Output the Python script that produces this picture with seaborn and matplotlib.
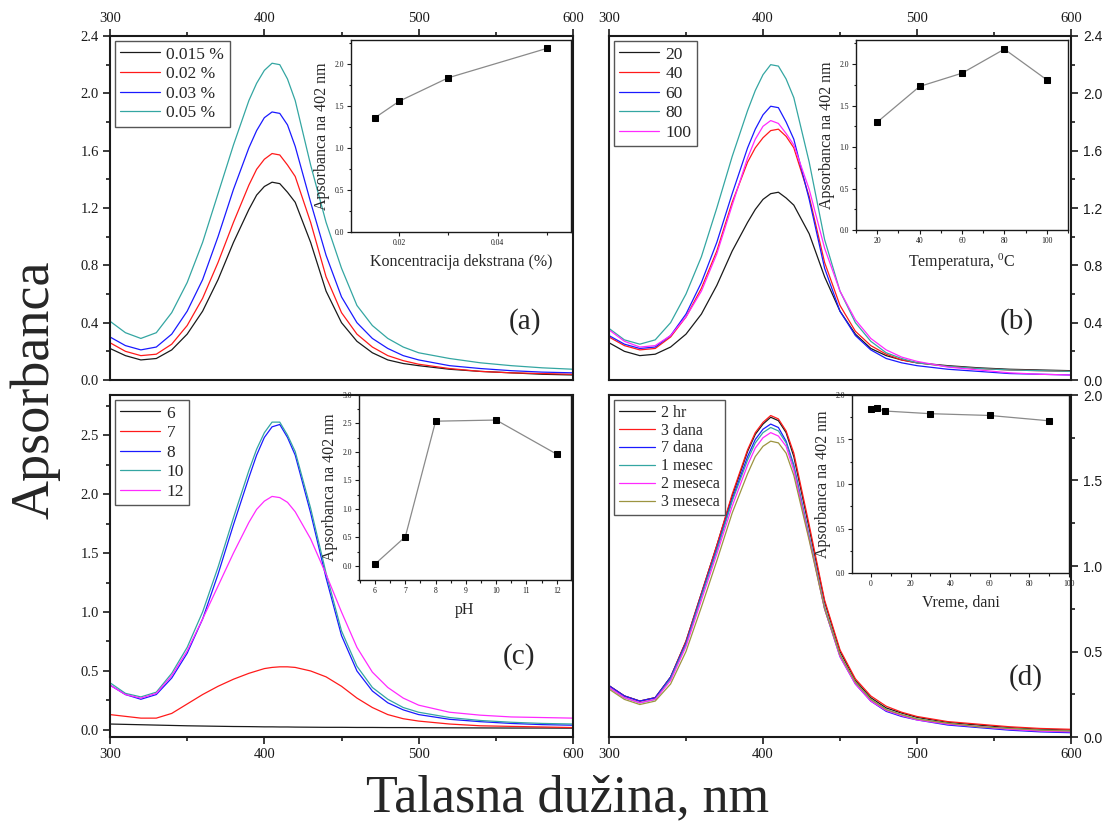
import matplotlib
matplotlib.use("Agg")
import matplotlib.pyplot as plt
import numpy as np
import pandas as pd
import seaborn as sns
from matplotlib.ticker import MultipleLocator

# ---------------------------------------------------------------- data
WL = [300, 310, 320, 330, 340, 350, 360, 370, 380, 390, 395, 400, 405, 410,
      415, 420, 430, 440, 450, 460, 470, 480, 490, 500, 520, 540, 560, 580, 600]

# (a) dextran concentration
DEX_LABELS = ["0.015 %", "0.02 %", "0.03 %", "0.05 %"]
dex_0015 = [0.22, 0.17, 0.14, 0.15, 0.21, 0.32, 0.48, 0.70, 0.96, 1.19, 1.29, 1.35, 1.38, 1.37,
            1.31, 1.24, 0.96, 0.62, 0.40, 0.27, 0.19, 0.14, 0.115, 0.10, 0.075, 0.06, 0.05, 0.04, 0.035]
dex_002 = [0.26, 0.20, 0.17, 0.18, 0.25, 0.38, 0.57, 0.82, 1.10, 1.36, 1.47, 1.54, 1.58, 1.57,
           1.50, 1.42, 1.10, 0.72, 0.47, 0.32, 0.23, 0.17, 0.135, 0.11, 0.08, 0.06, 0.05, 0.045, 0.04]
dex_003 = [0.30, 0.24, 0.21, 0.23, 0.32, 0.48, 0.70, 1.00, 1.33, 1.62, 1.74, 1.83, 1.87, 1.86,
           1.78, 1.63, 1.24, 0.87, 0.58, 0.40, 0.29, 0.22, 0.17, 0.14, 0.10, 0.08, 0.065, 0.055, 0.05]
dex_005 = [0.41, 0.33, 0.29, 0.33, 0.47, 0.68, 0.96, 1.30, 1.64, 1.95, 2.07, 2.16, 2.21, 2.20,
           2.10, 1.95, 1.50, 1.10, 0.78, 0.52, 0.38, 0.29, 0.23, 0.19, 0.15, 0.12, 0.10, 0.085, 0.075]
DEX_CONC = [0.015, 0.02, 0.03, 0.05]
DEX_A402 = [1.36, 1.56, 1.84, 2.19]

# (b) temperature
TEMP_LABELS = ["20", "40", "60", "80", "100"]
t20 = [0.26, 0.20, 0.17, 0.18, 0.23, 0.32, 0.46, 0.66, 0.90, 1.10, 1.19, 1.26, 1.30, 1.31,
       1.27, 1.22, 1.02, 0.72, 0.48, 0.32, 0.22, 0.17, 0.14, 0.12, 0.10, 0.085, 0.075, 0.07, 0.065]
t40 = [0.30, 0.24, 0.21, 0.22, 0.30, 0.44, 0.64, 0.90, 1.24, 1.52, 1.62, 1.69, 1.74, 1.75,
       1.70, 1.62, 1.28, 0.82, 0.52, 0.34, 0.24, 0.18, 0.14, 0.12, 0.095, 0.08, 0.07, 0.065, 0.06]
t60 = [0.31, 0.25, 0.22, 0.23, 0.31, 0.46, 0.68, 0.96, 1.30, 1.62, 1.75, 1.85, 1.91, 1.90,
       1.80, 1.68, 1.26, 0.78, 0.48, 0.31, 0.21, 0.15, 0.12, 0.10, 0.075, 0.06, 0.045, 0.04, 0.035]
t80 = [0.36, 0.28, 0.25, 0.28, 0.40, 0.60, 0.86, 1.20, 1.56, 1.88, 2.02, 2.13, 2.20, 2.19,
       2.10, 1.97, 1.52, 0.98, 0.62, 0.40, 0.27, 0.19, 0.15, 0.12, 0.095, 0.08, 0.07, 0.065, 0.06]
t100 = [0.35, 0.27, 0.23, 0.24, 0.31, 0.44, 0.62, 0.88, 1.22, 1.55, 1.68, 1.77, 1.81, 1.79,
        1.72, 1.64, 1.33, 0.92, 0.62, 0.42, 0.29, 0.21, 0.16, 0.13, 0.09, 0.07, 0.05, 0.04, 0.035]
TEMP_C = [20, 40, 60, 80, 100]
TEMP_A402 = [1.30, 1.73, 1.89, 2.18, 1.81]

# (c) pH
PH_LABELS = ["6", "7", "8", "10", "12"]
ph6 = [0.05, 0.047, 0.044, 0.041, 0.038, 0.035, 0.033, 0.031, 0.029, 0.028, 0.027, 0.026, 0.026, 0.025,
       0.025, 0.024, 0.023, 0.022, 0.022, 0.021, 0.021, 0.02, 0.02, 0.019, 0.018, 0.017, 0.016, 0.016, 0.015]
ph7 = [0.13, 0.115, 0.10, 0.10, 0.14, 0.22, 0.30, 0.37, 0.43, 0.48, 0.50, 0.52, 0.53, 0.535,
       0.535, 0.53, 0.50, 0.45, 0.37, 0.27, 0.19, 0.13, 0.095, 0.075, 0.05, 0.035, 0.03, 0.025, 0.02]
ph8 = [0.38, 0.30, 0.26, 0.30, 0.44, 0.65, 0.94, 1.32, 1.74, 2.14, 2.33, 2.48, 2.57, 2.59,
       2.48, 2.33, 1.84, 1.29, 0.80, 0.50, 0.33, 0.23, 0.17, 0.13, 0.09, 0.07, 0.055, 0.045, 0.04]
ph10 = [0.40, 0.31, 0.28, 0.32, 0.48, 0.70, 1.00, 1.38, 1.80, 2.20, 2.38, 2.52, 2.61, 2.61,
        2.50, 2.36, 1.88, 1.33, 0.84, 0.54, 0.36, 0.26, 0.19, 0.15, 0.105, 0.08, 0.065, 0.055, 0.05]
ph12 = [0.38, 0.30, 0.27, 0.31, 0.46, 0.67, 0.94, 1.22, 1.50, 1.76, 1.87, 1.94, 1.98, 1.97,
        1.93, 1.85, 1.62, 1.32, 1.00, 0.70, 0.49, 0.36, 0.27, 0.21, 0.15, 0.125, 0.11, 0.105, 0.10]
PH_VALUES = [6, 7, 8, 10, 12]
PH_A402 = [0.03, 0.51, 2.54, 2.56, 1.96]

# (d) storage time
TIME_LABELS = ["2 hr", "3 dana", "7 dana", "1 mesec", "2 meseca", "3 meseca"]
d_2hr = [0.30, 0.24, 0.21, 0.23, 0.35, 0.56, 0.84, 1.12, 1.41, 1.67, 1.77, 1.83, 1.87, 1.85,
         1.78, 1.64, 1.22, 0.79, 0.50, 0.33, 0.23, 0.17, 0.14, 0.115, 0.085, 0.07, 0.055, 0.045, 0.04]
d_3d = [0.30, 0.24, 0.21, 0.23, 0.35, 0.56, 0.84, 1.12, 1.42, 1.68, 1.78, 1.84, 1.88, 1.86,
        1.79, 1.66, 1.24, 0.80, 0.51, 0.34, 0.24, 0.18, 0.145, 0.12, 0.09, 0.075, 0.06, 0.05, 0.045]
d_7d = [0.30, 0.24, 0.21, 0.23, 0.35, 0.55, 0.83, 1.10, 1.39, 1.64, 1.74, 1.80, 1.83, 1.81,
        1.73, 1.59, 1.17, 0.75, 0.47, 0.31, 0.21, 0.15, 0.12, 0.10, 0.07, 0.055, 0.04, 0.03, 0.025]
d_1m = [0.29, 0.23, 0.20, 0.22, 0.34, 0.54, 0.82, 1.09, 1.38, 1.62, 1.72, 1.78, 1.81, 1.79,
        1.72, 1.58, 1.17, 0.76, 0.48, 0.32, 0.22, 0.16, 0.13, 0.105, 0.08, 0.06, 0.05, 0.04, 0.035]
d_2m = [0.29, 0.23, 0.20, 0.22, 0.33, 0.53, 0.80, 1.07, 1.35, 1.59, 1.69, 1.75, 1.78, 1.76,
        1.70, 1.56, 1.16, 0.75, 0.47, 0.31, 0.21, 0.155, 0.125, 0.10, 0.075, 0.06, 0.045, 0.035, 0.03]
d_3m = [0.28, 0.22, 0.19, 0.21, 0.31, 0.50, 0.76, 1.03, 1.31, 1.54, 1.64, 1.70, 1.73, 1.72,
        1.66, 1.53, 1.15, 0.75, 0.48, 0.32, 0.22, 0.16, 0.13, 0.105, 0.08, 0.06, 0.05, 0.04, 0.035]
TIME_DAYS = [0, 3, 7, 30, 60, 90]
TIME_A402 = [1.84, 1.85, 1.82, 1.79, 1.77, 1.71]

# ---------------------------------------------------------------- style
BLACK, RED, BLUE, TEAL, MAGENTA, OLIVE = "#1a1a1a", "#ff1a1a", "#1a1aff", "#34a6a2", "#ff2aff", "#9c9440"

sns.set_theme(style="ticks")
plt.rcParams.update({
    "font.family": ["Liberation Serif", "DejaVu Serif"],
    "mathtext.fontset": "custom",
    "mathtext.rm": "Liberation Serif",
    "mathtext.it": "Liberation Serif:italic",
    "axes.edgecolor": "#1a1a1a",
    "axes.linewidth": 1.5,
    "axes.facecolor": "white",
    "figure.facecolor": "white",
    "xtick.color": "#1a1a1a",
    "ytick.color": "#1a1a1a",
})

W, H = 1104, 821
fig = plt.figure(figsize=(W / 100, H / 100), dpi=100)


def px_axes(x0, y0, x1, y1):
    return fig.add_axes([x0 / W, 1 - y1 / H, (x1 - x0) / W, (y1 - y0) / H])


def spectra(ax, series, labels, colors, ylim, ymaj, side_x, side_y, leg_size, leg_space):
    frame = pd.DataFrame({
        "wl": WL * len(series),
        "a": [v for s in series for v in s],
        "uzorak": [lab for lab in labels for _ in WL],
    })
    sns.lineplot(data=frame, x="wl", y="a", hue="uzorak", hue_order=labels,
                 palette=colors, estimator=None, lw=0.9, legend=False, ax=ax)
    ax.set_xlim(300, 600)
    ax.set_ylim(*ylim)
    ax.set_xlabel("")
    ax.set_ylabel("")
    ax.xaxis.set_major_locator(MultipleLocator(100))
    ax.xaxis.set_minor_locator(MultipleLocator(50))
    ax.yaxis.set_major_locator(MultipleLocator(ymaj))
    ax.yaxis.set_minor_locator(MultipleLocator(ymaj / 2))
    top = side_x == "top"
    right = side_y == "right"
    ax.tick_params(which="both", direction="out", width=1.2,
                   top=top, labeltop=top, bottom=not top, labelbottom=not top,
                   right=right, labelright=right, left=not right, labelleft=not right)
    ax.tick_params(which="major", length=5)
    ax.tick_params(which="minor", length=3)
    ax.tick_params(axis="x", labelsize=10.5, pad=3)
    if right:
        ax.tick_params(axis="y", labelsize=10, labelfontfamily="Liberation Sans", pad=4)
    else:
        ax.tick_params(axis="y", labelsize=10.5, pad=3)
    leg = ax.legend(ax.lines[:len(labels)], labels, loc="upper left", fontsize=leg_size,
                    frameon=True, fancybox=False, edgecolor="#555555", framealpha=1,
                    handlelength=2.3, handletextpad=0.35, labelspacing=leg_space,
                    borderpad=0.3, borderaxespad=0.3)
    leg.get_frame().set_linewidth(1.0)


def inset(ax, xs, ys, xlim, ylim, xmaj, xmin, xlabel):
    sns.lineplot(x=xs, y=ys, color="#8a8a8a", lw=0.9, marker="s", markersize=4.5,
                 markerfacecolor="black", markeredgecolor="black", estimator=None, ax=ax)
    ax.set_facecolor("none")
    ax.set_xlim(*xlim)
    ax.set_ylim(*ylim)
    ax.xaxis.set_major_locator(MultipleLocator(xmaj))
    ax.xaxis.set_minor_locator(MultipleLocator(xmin))
    ax.yaxis.set_major_locator(MultipleLocator(0.5))
    ax.yaxis.set_minor_locator(MultipleLocator(0.25))
    for sp in ax.spines.values():
        sp.set_linewidth(1.0)
    ax.tick_params(which="both", direction="out", width=0.8, labelsize=5.5, pad=2)
    ax.tick_params(which="major", length=3)
    ax.tick_params(which="minor", length=1.8)
    ax.set_xlabel(xlabel, fontsize=11.5, labelpad=5)
    ax.set_ylabel("Apsorbanca na 402 nm", fontsize=11.5, labelpad=3)


# ---------------------------------------------------------------- (a)
ax_a = px_axes(110, 36, 573, 380)
spectra(ax_a, [dex_0015, dex_002, dex_003, dex_005], DEX_LABELS,
        [BLACK, RED, BLUE, TEAL], (0, 2.4), 0.4, "top", "left", 12.5, 0.2)
ax_a.text(0.896, 0.169, "(a)", transform=ax_a.transAxes, fontsize=21, ha="center", va="center")
in_a = px_axes(351, 40, 571, 232)
inset(in_a, DEX_CONC, DEX_A402, (0.0102, 0.0549), (0, 2.29), 0.02, 0.01,
      "Koncentracija dekstrana (%)")

# ---------------------------------------------------------------- (b)
ax_b = px_axes(609, 36, 1071, 380)
spectra(ax_b, [t20, t40, t60, t80, t100], TEMP_LABELS,
        [BLACK, RED, BLUE, TEAL, MAGENTA], (0, 2.4), 0.4, "top", "right", 12.5, 0.2)
ax_b.text(0.883, 0.169, "(b)", transform=ax_b.transAxes, fontsize=21, ha="center", va="center")
in_b = px_axes(856, 40, 1068, 230)
inset(in_b, TEMP_C, TEMP_A402, (10, 110), (0, 2.29), 20, 10, r"Temperatura, $^{0}$C")

# ---------------------------------------------------------------- (c)
ax_c = px_axes(110, 395, 573, 737)
spectra(ax_c, [ph6, ph7, ph8, ph10, ph12], PH_LABELS,
        [BLACK, RED, BLUE, TEAL, MAGENTA], (-0.06, 2.84), 0.5, "bottom", "left", 12.5, 0.2)
ax_c.text(0.883, 0.234, "(c)", transform=ax_c.transAxes, fontsize=21, ha="center", va="center")
in_c = px_axes(359, 395, 571, 580)
inset(in_c, PH_VALUES, PH_A402, (5.47, 12.47), (-0.25, 3.0), 1, 0.5, "pH")

# ---------------------------------------------------------------- (d)
ax_d = px_axes(609, 395, 1071, 737)
spectra(ax_d, [d_2hr, d_3d, d_7d, d_1m, d_2m, d_3m], TIME_LABELS,
        [BLACK, RED, BLUE, TEAL, MAGENTA, OLIVE], (0, 2.0), 0.5, "bottom", "right", 11.5, 0.12)
ax_d.text(0.903, 0.175, "(d)", transform=ax_d.transAxes, fontsize=21, ha="center", va="center")
in_d = px_axes(852, 395, 1069, 573)
inset(in_d, TIME_DAYS, TIME_A402, (-9.6, 100), (0, 2.0), 20, 10, "Vreme, dani")

# ---------------------------------------------------------------- shared labels
fig.text(0.032, 0.525, "Apsorbanca", rotation=90, fontsize=39, ha="center", va="center")
fig.text(0.514, 0.012, "Talasna dužina, nm", fontsize=37.5, ha="center", va="baseline")

fig.savefig("out.png", dpi=100)
